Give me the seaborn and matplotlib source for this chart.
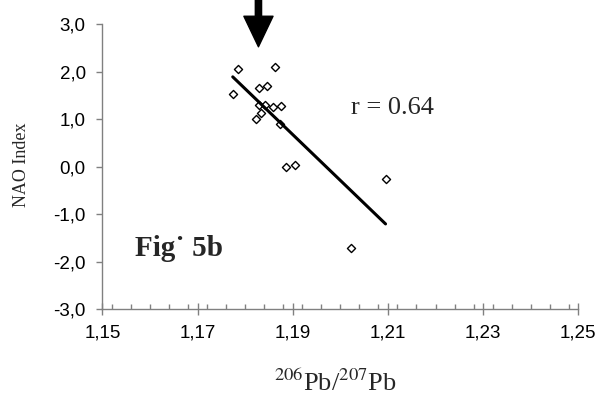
import numpy as np
import pandas as pd
import seaborn as sns
import matplotlib.pyplot as plt
from matplotlib.ticker import MultipleLocator, FuncFormatter

# --- dados ---
pb_ratio = [1.1784, 1.1862, 1.1774, 1.1830, 1.1846, 1.1830, 1.1842, 1.1858,
            1.1876, 1.1833, 1.1822, 1.1874, 1.1885, 1.1904, 1.2095, 1.2022]
nao_index = [2.06, 2.10, 1.52, 1.66, 1.70, 1.29, 1.30, 1.26,
             1.28, 1.12, 1.01, 0.89, -0.01, 0.03, -0.27, -1.72]
x_ticks = [1.15, 1.17, 1.19, 1.21, 1.23, 1.25]
y_ticks = [-3.0, -2.0, -1.0, 0.0, 1.0, 2.0, 3.0]
r_label = "r = 0.64"
fig_label = "Fig\u02d9 5b"
arrow_x = 1.1828

df = pd.DataFrame({"pb": pb_ratio, "nao": nao_index})

sns.set_theme(style="ticks")
plt.rcParams["mathtext.fontset"] = "stix"

fig = plt.figure(figsize=(6.04, 3.98), dpi=100)
ax = fig.add_axes([0.1694, 0.2236, 0.9575 - 0.1694, 0.9397 - 0.2236])

sns.regplot(data=df, x="pb", y="nao", ax=ax, ci=None, marker="D",
            scatter_kws=dict(s=17, facecolor="white", edgecolor="black", linewidths=1.0, alpha=1),
            line_kws=dict(color="black", lw=2.2))

ax.set_xlim(1.15, 1.25)
ax.set_ylim(-3, 3)
ax.set_xticks(x_ticks)
ax.set_yticks(y_ticks)
ax.xaxis.set_minor_locator(MultipleLocator(0.004))
comma = lambda v, p, d=2: f"{v:.{d}f}".replace(".", ",")
ax.xaxis.set_major_formatter(FuncFormatter(lambda v, p: comma(v, p, 2)))
ax.yaxis.set_major_formatter(FuncFormatter(lambda v, p: comma(v, p, 1)))

for side in ["top", "right"]:
    ax.spines[side].set_visible(False)
for side in ["left", "bottom"]:
    ax.spines[side].set_color("#808080")
    ax.spines[side].set_linewidth(1.0)

ax.tick_params(axis="x", which="major", direction="inout", length=8, width=1,
               color="#808080", pad=7)
ax.tick_params(axis="x", which="minor", direction="in", length=3.5, width=1, color="#808080")
ax.tick_params(axis="y", which="major", direction="out", length=4, width=1,
               color="#808080", pad=8)
for lbl in ax.get_xticklabels() + ax.get_yticklabels():
    lbl.set_fontfamily("Liberation Sans")
    lbl.set_fontsize(13.5)
    lbl.set_color("black")

ax.set_xlabel("")
ax.set_ylabel("")

fig.text(0.035, 0.585, "NAO Index", rotation=90, ha="center", va="center",
         family="Liberation Serif", fontsize=13)
fig.text(0.5546, 0.037, r"$^{206}$Pb/$^{207}$Pb", ha="center", va="center",
         family="Liberation Serif", fontsize=19)

ax.text(1.2022, 1.105, r_label, ha="left", va="baseline",
        family="Liberation Serif", fontsize=19)
ax.text(1.1569, -1.88, fig_label, ha="left", va="baseline",
        family="Liberation Serif", fontweight="bold", fontsize=21)

ax.annotate("", xy=(arrow_x, 2.52), xytext=(arrow_x, 3.52),
            arrowprops=dict(facecolor="black", edgecolor="black", width=4.5,
                            headwidth=21, headlength=22, shrink=0),
            annotation_clip=False)

fig.savefig("out.png", dpi=100)
